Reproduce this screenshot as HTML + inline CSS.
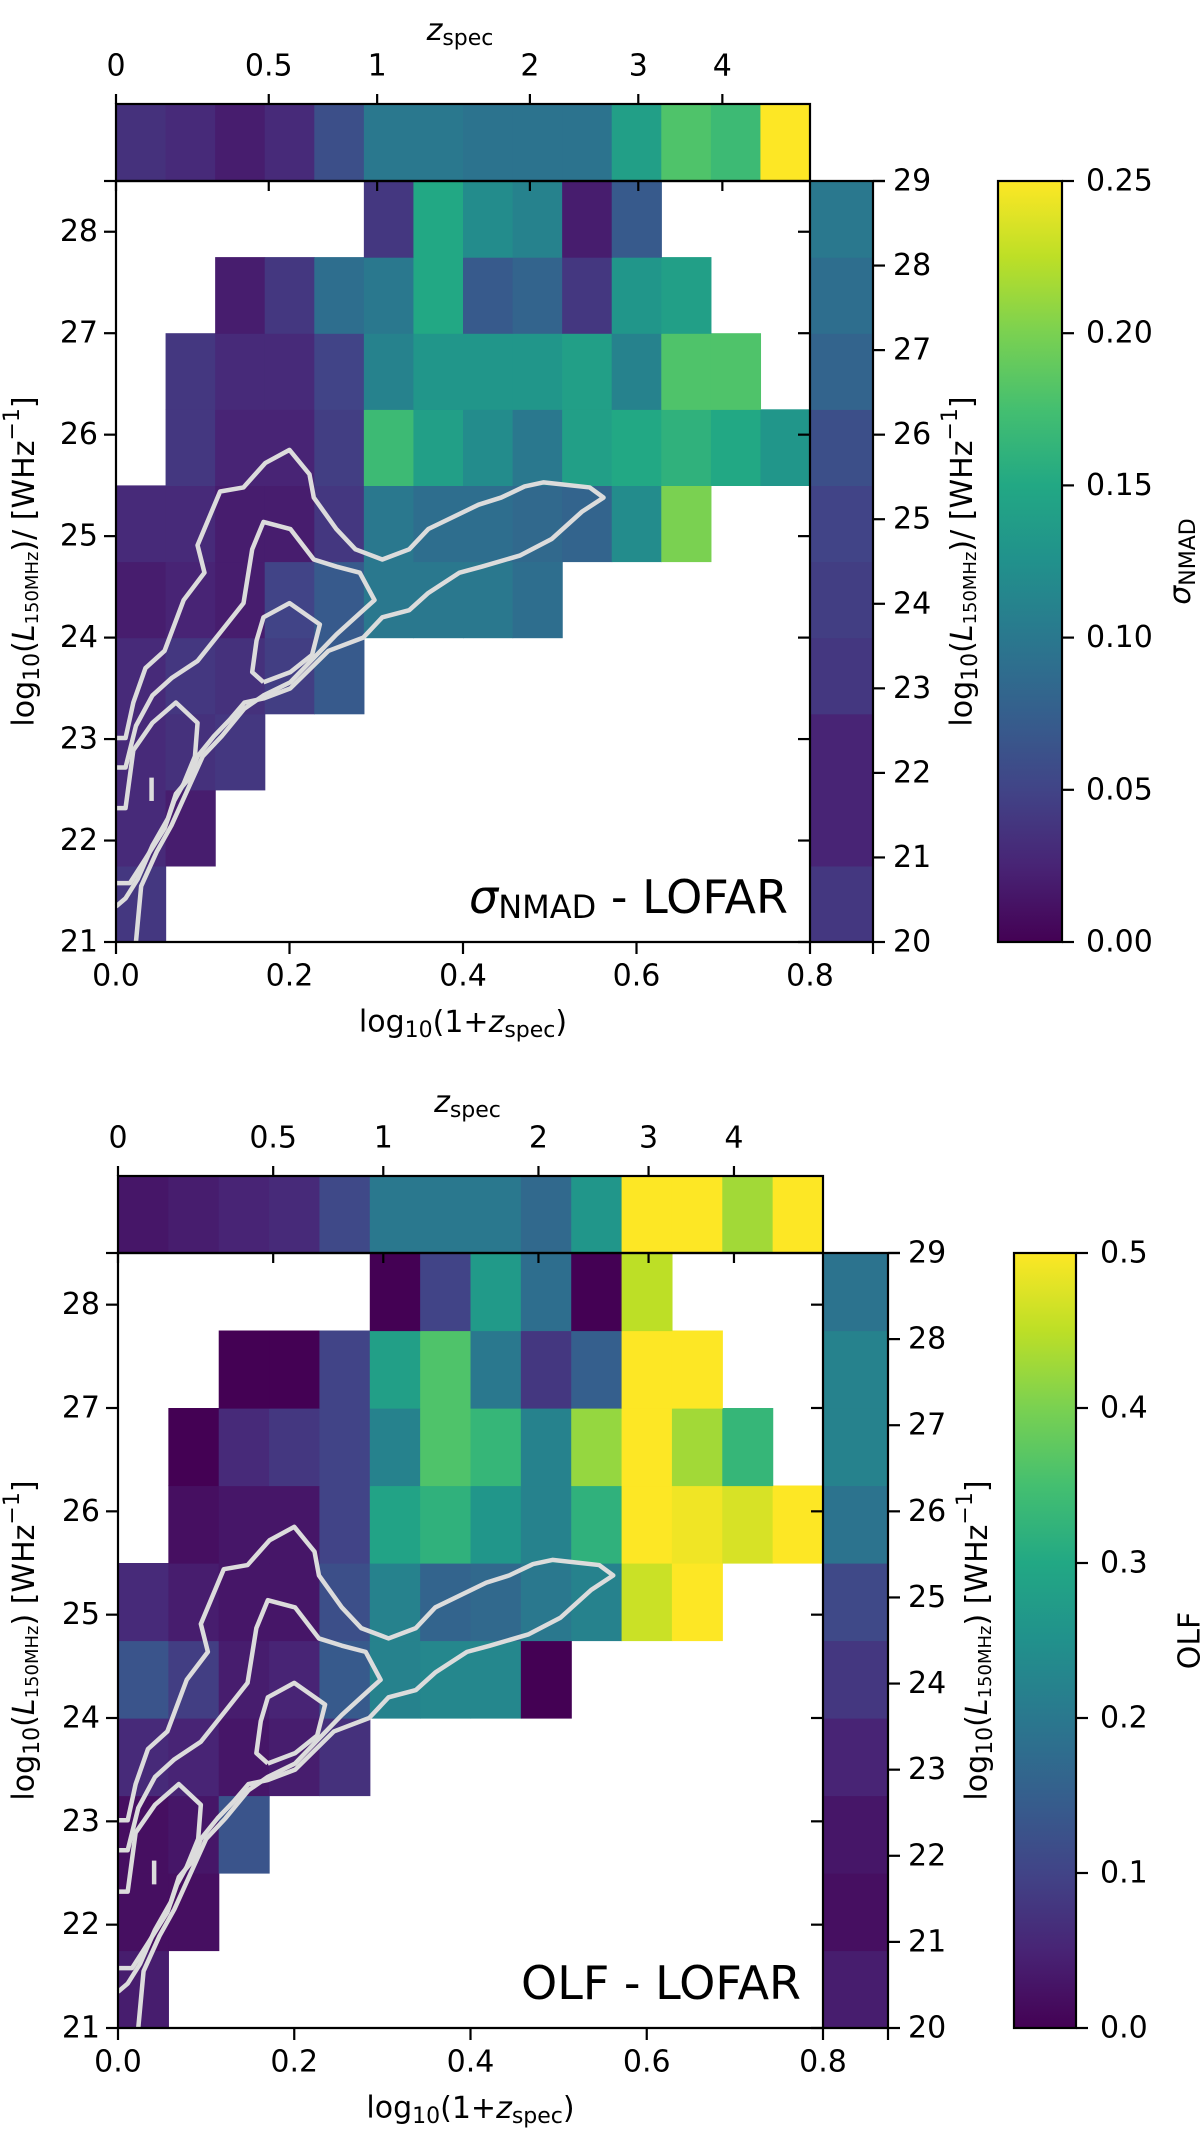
<!DOCTYPE html>
<html><head><meta charset="utf-8"><style>
html,body{margin:0;padding:0;background:#fff}
svg{display:block}
text{font-family:"DejaVu Sans","Liberation Sans",sans-serif;fill:#000}
</style></head><body>
<svg id="fig" width="1200" height="2153" viewBox="0 0 1200 2153" xmlns="http://www.w3.org/2000/svg"></svg>
<script>
// ---------- data ----------
const n = null;
const xBinCount = 14;            // bins over log10(1+z) 0..0.8
const yBinEdges0 = 21, yBinStep = 0.75; // 10 rows 21..28.5
const xTicks = [0.0, 0.2, 0.4, 0.6, 0.8];
const xTickLabels = ["0.0", "0.2", "0.4", "0.6", "0.8"];
const yTicks = [21, 22, 23, 24, 25, 26, 27, 28];
const rightTicks = [20, 21, 22, 23, 24, 25, 26, 27, 28, 29];
const zTicks = [0, 0.5, 1, 2, 3, 4];
const zTickLabels = ["0", "0.5", "1", "2", "3", "4"];

const sigmaGrid = [
  [0.04],
  [0.03,0.02],
  [0.03,0.035,0.04],
  [0.03,0.04,0.035,0.045,0.07],
  [0.02,0.025,0.02,0.05,0.07,0.1,0.1,0.1,0.09],
  [0.03,0.03,0.02,0.02,0.04,0.1,0.09,0.09,0.085,0.08,0.12,0.2],
  [n,0.04,0.025,0.025,0.045,0.17,0.14,0.12,0.1,0.14,0.15,0.16,0.15,0.13],
  [n,0.04,0.03,0.03,0.05,0.11,0.13,0.13,0.13,0.14,0.11,0.18,0.18],
  [n,n,0.02,0.04,0.09,0.1,0.15,0.07,0.08,0.04,0.13,0.14],
  [n,n,n,n,n,0.04,0.15,0.12,0.11,0.02,0.07]
];
const sigmaTopHist = [0.035,0.03,0.02,0.03,0.06,0.1,0.1,0.095,0.095,0.095,0.14,0.18,0.17,0.25];
const sigmaRightHist = [0.04,0.025,0.025,0.04,0.045,0.05,0.06,0.08,0.09,0.1];
const sigmaCbTicks = [0, 0.05, 0.10, 0.15, 0.20, 0.25];
const sigmaCbLabels = ["0.00","0.05","0.10","0.15","0.20","0.25"];

const olfGrid = [
  [0.04],
  [0.02,0.02],
  [0.02,0.03,0.13],
  [0.06,0.05,0.03,0.04,0.07],
  [0.13,0.09,0.04,0.05,0.14,0.22,0.23,0.23,0.0],
  [0.06,0.04,0.03,0.03,0.12,0.22,0.16,0.17,0.2,0.22,0.46,0.5],
  [n,0.02,0.03,0.03,0.1,0.29,0.32,0.26,0.22,0.32,0.5,0.49,0.47,0.5],
  [n,0.0,0.06,0.08,0.1,0.22,0.36,0.33,0.22,0.42,0.5,0.43,0.33],
  [n,n,0.0,0.0,0.1,0.28,0.36,0.2,0.08,0.15,0.5,0.5],
  [n,n,n,n,n,0.0,0.1,0.27,0.18,0.0,0.45]
];
const olfTopHist = [0.03,0.04,0.05,0.06,0.11,0.2,0.2,0.2,0.17,0.26,0.5,0.5,0.43,0.5];
const olfRightHist = [0.04,0.02,0.03,0.05,0.08,0.11,0.19,0.22,0.22,0.19];
const olfCbTicks = [0, 0.1, 0.2, 0.3, 0.4, 0.5];
const olfCbLabels = ["0.0","0.1","0.2","0.3","0.4","0.5"];

// contours in data coords [log10(1+z), log10 L]
const contourOuter = [[0,23.01],[.011,23.01],[.020,23.36],[.034,23.70],[.056,23.87],[.078,24.37],[.102,24.64],[.094,24.91],[.120,25.44],[.147,25.48],[.172,25.72],[.200,25.85],[.223,25.61],[.228,25.38],[.254,25.07],[.276,24.87],[.307,24.77],[.338,24.87],[.360,25.07],[.418,25.31],[.444,25.38],[.471,25.49],[.493,25.53],[.546,25.48],[.562,25.38],[.537,25.24],[.502,24.97],[.466,24.81],[.422,24.70],[.396,24.64],[.360,24.44],[.338,24.27],[.307,24.20],[.285,24.00],[.245,23.87],[.201,23.50],[.170,23.40],[.148,23.36],[.131,23.19],[.113,23.03],[.094,22.83],[.085,22.62],[.069,22.46],[.060,22.22],[.042,21.95],[.025,21.62],[.011,21.43],[0,21.35]];
const contourMid = [[0,22.72],[.011,22.72],[.023,23.13],[.042,23.43],[.064,23.60],[.094,23.77],[.122,24.07],[.147,24.34],[.157,24.87],[.170,25.14],[.201,25.07],[.228,24.77],[.254,24.70],[.281,24.64],[.298,24.37],[.285,24.27],[.254,24.03],[.228,23.80],[.201,23.56],[.170,23.43],[.148,23.30],[.122,23.03],[.100,22.83],[.082,22.49],[.064,22.15],[.047,21.89],[.029,21.55],[.023,21.0]];
const contourInner = [[.170,23.56],[.157,23.66],[.162,23.97],[.170,24.20],[.200,24.34],[.235,24.13],[.226,23.83],[.201,23.66],[.170,23.56]];
const contourLow = [[0,22.32],[.011,22.32],[.020,22.89],[.042,23.16],[.069,23.36],[.094,23.16],[.091,22.83],[.078,22.56],[.067,22.39],[.056,22.12],[.034,21.82],[.016,21.58],[0,21.58]];
const contourTick = [[.041,22.62],[.041,22.39]];

// ---------- rendering ----------
const NS = "http://www.w3.org/2000/svg";
const svg = document.getElementById("fig");
const VIR = ["#440154","#482475","#414487","#355f8d","#2a788e","#21918c","#22a884","#44bf70","#7ad151","#bddf26","#fde725"];
function hex(h){return [parseInt(h.substr(1,2),16),parseInt(h.substr(3,2),16),parseInt(h.substr(5,2),16)];}
function viridis(t){
  t=Math.max(0,Math.min(1,t)); const f=t*10, i=Math.min(9,Math.floor(f)), r=f-i;
  const a=hex(VIR[i]), b=hex(VIR[i+1]);
  return "rgb("+a.map((v,k)=>Math.round(v+(b[k]-v)*r)).join(",")+")";
}
function el(tag, attrs, parent){
  const e=document.createElementNS(NS,tag);
  for(const k in attrs) e.setAttribute(k, attrs[k]);
  (parent||svg).appendChild(e); return e;
}
function txt(s, x, y, size, anchor, parent, rot){
  const t=el("text",{x:x,y:y,"font-size":size,"text-anchor":anchor||"middle","dominant-baseline":"central"},parent);
  if(rot) t.setAttribute("transform","rotate("+rot+" "+x+" "+y+")");
  t.innerHTML=s; return t;
}

function drawPanel(g, grid, topHist, rightHist, vmax, cbTicks, cbLabels, cbLabel, title, ylabel){
  const panel = el("g",{});
  
  
  const X = v => g.x0 + (v/0.8)*(g.x1-g.x0);
  const Y = v => g.y1 - (v-21)/7.5*(g.y1-g.y0);
  const YR = v => g.y1 - (v-20)/9*(g.y1-g.y0);
  const bw = 0.8/xBinCount;
  const cells = el("g",{},panel);
  
  
  grid.forEach((row, r) => {
    row.forEach((v, c) => {
      if(v===null||v===undefined) return;
      const lo=yBinEdges0+r*yBinStep, hi=lo+yBinStep;
      const rc=el("rect",{x:X(c*bw),y:Y(hi),width:X((c+1)*bw)-X(c*bw)+0.6,height:Y(lo)-Y(hi)+0.6,fill:viridis(v/vmax)},cells);
      
      
    });
  });
  const cg = el("g",{fill:"none",stroke:"#dcdcdc","stroke-width":4.5,"stroke-linejoin":"round"},panel);
  
  
  [contourOuter, contourMid, contourInner, contourLow, contourTick].forEach(c => {
    const p=el("polyline",{points:c.map(q=>X(q[0])+","+Y(q[1])).join(" ")},cg);
    
    
  });
  const th = el("g",{},panel);
  
  
  topHist.forEach((v,c)=>{
    const rc=el("rect",{x:X(c*bw),y:g.h0,width:X((c+1)*bw)-X(c*bw)+0.6,height:g.y0-g.h0,fill:viridis(v/vmax)},th);
    
    
  });
  el("rect",{x:g.x0,y:g.h0,width:g.x1-g.x0,height:g.y0-g.h0,fill:"none",stroke:"#000","stroke-width":2.2},th);
  const rh = el("g",{},panel);
  
  
  rightHist.forEach((v,r)=>{
    const lo=yBinEdges0+r*yBinStep, hi=lo+yBinStep;
    const rc=el("rect",{x:g.x1,y:Y(hi),width:g.r1-g.x1,height:Y(lo)-Y(hi)+0.6,fill:viridis(v/vmax)},rh);
    
    
  });
  const ax = el("g",{stroke:"#000","stroke-width":2.2},panel);
  
  
  el("line",{x1:g.x0,y1:g.y0,x2:g.x0,y2:g.y1},ax);
  el("line",{x1:g.x0,y1:g.y1,x2:g.r1,y2:g.y1},ax);
  el("line",{x1:g.x1,y1:g.y0,x2:g.x1,y2:g.y1},ax);
  el("line",{x1:g.r1,y1:g.y0,x2:g.r1,y2:g.y1},ax);
  el("line",{x1:g.x0,y1:g.y0,x2:g.r1+12,y2:g.y0},ax);
  yTicks.forEach(v=>{
    el("line",{x1:g.x0-12,y1:Y(v),x2:g.x0,y2:Y(v)},ax);
    el("line",{x1:g.x1-12,y1:Y(v),x2:g.x1,y2:Y(v)},ax);
    const t=txt(String(v), g.x0-18, Y(v), 30, "end", panel);
    
    
  });
  rightTicks.forEach(v=>{
    el("line",{x1:g.r1,y1:YR(v),x2:g.r1+12,y2:YR(v)},ax);
    const t=txt(String(v), g.r1+20, YR(v), 30, "start", panel);
    
    
  });
  xTicks.forEach((v,i)=>{
    el("line",{x1:X(v),y1:g.y1,x2:X(v),y2:g.y1+12},ax);
    const t=txt(xTickLabels[i], X(v), g.y1+34, 30, "middle", panel);
    
    
  });
  el("line",{x1:g.r1,y1:g.y1,x2:g.r1,y2:g.y1+12},ax);
  zTicks.forEach((z,i)=>{
    const v=Math.log10(1+z);
    el("line",{x1:X(v),y1:g.h0-10,x2:X(v),y2:g.h0},ax);
    el("line",{x1:X(v),y1:g.y0,x2:X(v),y2:g.y0+10},ax);
    const t=txt(zTickLabels[i], X(v), g.h0-38, 30, "middle", panel);
    
    
  });
  el("line",{x1:g.x0-12,y1:g.y0,x2:g.x0,y2:g.y0},ax);
  let t=txt('<tspan font-style="italic">z</tspan><tspan font-size="22" dy="8">spec</tspan>', (g.x0+g.x1)/2-3, g.h0-74, 30, "middle", panel);
   
  t=txt('log<tspan font-size="22" dy="8">10</tspan><tspan dy="-8">(1+</tspan><tspan font-style="italic">z</tspan><tspan font-size="22" dy="8">spec</tspan><tspan dy="-8">)</tspan>', (g.x0+g.x1)/2, g.y1+80, 30, "middle", panel);
   
  t=txt(ylabel, 24, (g.y0+g.y1)/2, 30, "middle", panel, -90);
   
  t=txt(ylabel, g.rl, (g.y0+g.y1)/2, 30, "middle", panel, -90);
   
  t=txt(title, g.x1-22, g.y1-45, 46, "end", panel);
   
  const cb = el("g",{},panel);
  
  
  const gid="grad"+g.name;
  const defs=el("defs",{},cb);
  const lg=el("linearGradient",{id:gid,x1:0,y1:1,x2:0,y2:0},defs);
  VIR.forEach((c,i)=>el("stop",{offset:(i*10)+"%","stop-color":c},lg));
  el("rect",{x:g.c0,y:g.y0,width:g.c1-g.c0,height:g.y1-g.y0,fill:"url(#"+gid+")",stroke:"#000","stroke-width":2.2},cb);
  const CY = v => g.y1 - v/vmax*(g.y1-g.y0);
  cbTicks.forEach((v,i)=>{
    el("line",{x1:g.c1,y1:CY(v),x2:g.c1+12,y2:CY(v),stroke:"#000","stroke-width":2.2},cb);
    const tt=txt(cbLabels[i], g.c1+24, CY(v), 30, "start", cb);
    
    
  });
  t=txt(cbLabel, g.cl, (g.y0+g.y1)/2, 30, "middle", cb, -90);
   
}

const ylabTop = 'log<tspan font-size="22" dy="8">10</tspan><tspan dy="-8">(</tspan><tspan font-style="italic">L</tspan><tspan font-size="18" dy="8">150MHz</tspan><tspan dy="-8">)/ [WHz</tspan><tspan font-size="22" dy="-12">−1</tspan><tspan dy="12">]</tspan>';
const ylabBot = 'log<tspan font-size="22" dy="8">10</tspan><tspan dy="-8">(</tspan><tspan font-style="italic">L</tspan><tspan font-size="18" dy="8">150MHz</tspan><tspan dy="-8">) [WHz</tspan><tspan font-size="22" dy="-12">−1</tspan><tspan dy="12">]</tspan>';

drawPanel({name:"sigma-panel",x0:116,x1:810,r1:873,y0:181,y1:942,h0:104,c0:998,c1:1062,rl:962,cl:1180},
  sigmaGrid, sigmaTopHist, sigmaRightHist, 0.25, sigmaCbTicks, sigmaCbLabels,
  '<tspan font-style="italic">σ</tspan><tspan font-size="22" dy="8">NMAD</tspan>',
  '<tspan font-style="italic">σ</tspan><tspan font-size="32" dy="10">NMAD</tspan><tspan dy="-10"> - LOFAR</tspan>', ylabTop);
drawPanel({name:"olf-panel",x0:118,x1:823,r1:888,y0:1253,y1:2028,h0:1176,c0:1014,c1:1076,rl:977,cl:1190},
  olfGrid, olfTopHist, olfRightHist, 0.5, olfCbTicks, olfCbLabels, 'OLF', 'OLF - LOFAR', ylabBot);
</script>
</body></html>
